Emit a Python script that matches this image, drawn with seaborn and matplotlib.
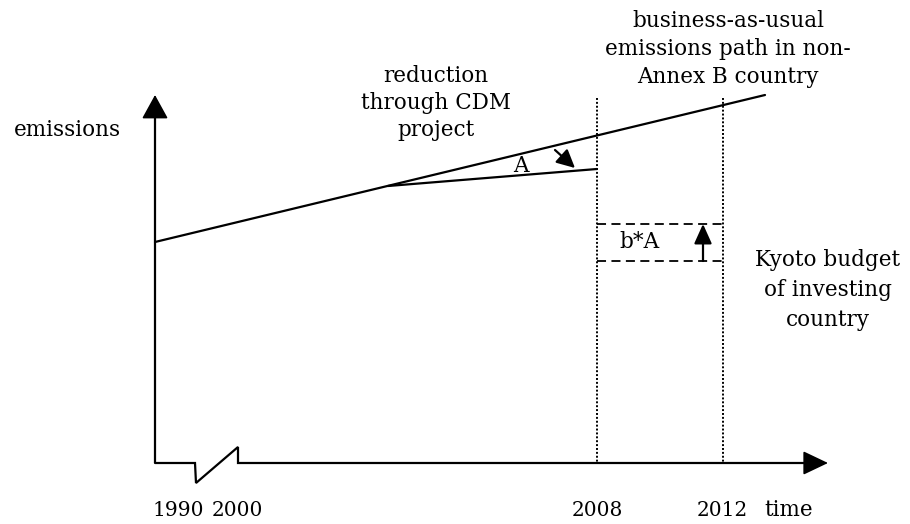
import matplotlib
matplotlib.use("Agg")
import matplotlib.pyplot as plt
import seaborn as sns
import pandas as pd

# ---- schematic data (drawing units: x to the right, y downward, ~pixels) ----
bau_x = [155, 765]          # business-as-usual emissions path
bau_y = [242, 95]
cdm_x = [388, 597]          # path with CDM project
cdm_y = [186, 169]
year_labels = ["1990", "2000", "2008", "2012"]
year_x = [178, 237, 597, 722]
period_x = [597, 723]       # 2008 and 2012 markers
budget_levels = [224, 261]  # Kyoto budget with / without b*A

sns.set_theme(style="white")
plt.rcParams["font.family"] = ["DejaVu Serif"]
plt.rcParams["text.color"] = "black"

fig = plt.figure(figsize=(9.10, 5.24), dpi=100)
ax = fig.add_axes([0, 0, 1, 1])
ax.set_xlim(0, 910)
ax.set_ylim(524, 0)
ax.axis("off")

df = pd.DataFrame({
    "x": bau_x + cdm_x,
    "y": bau_y + cdm_y,
    "path": ["bau"] * 2 + ["cdm"] * 2,
})
sns.lineplot(data=df, x="x", y="y", units="path", estimator=None,
             color="black", lw=1.6, ax=ax, legend=False)

# axes of the schematic
ax.plot([155, 155], [463, 112], color="black", lw=1.6, solid_capstyle="butt")
ax.annotate("", xy=(155, 95), xytext=(155, 116),
            arrowprops=dict(arrowstyle="-|>,head_length=1.0,head_width=0.55",
                            mutation_scale=15, color="black", lw=1.2,
                            shrinkA=0, shrinkB=0))
ax.plot([155, 195, 196, 238, 238, 810], [463, 463, 483, 447, 463, 463],
        color="black", lw=1.6, solid_joinstyle="miter")
ax.annotate("", xy=(828, 463), xytext=(806, 463),
            arrowprops=dict(arrowstyle="-|>,head_length=1.05,head_width=0.5",
                            mutation_scale=15, color="black", lw=1.2,
                            shrinkA=0, shrinkB=0))

# dotted period markers
for px in period_x:
    ax.plot([px, px], [98, 463], color="black", lw=1.4, ls=(0, (1, 1)))

# dashed budget lines
for by in budget_levels:
    ax.plot([period_x[0], period_x[1]], [by, by], color="black", lw=1.3,
            ls=(0, (5, 3)))

# arrows
ax.annotate("", xy=(703, 224), xytext=(703, 261),
            arrowprops=dict(arrowstyle="-|>,head_length=1.0,head_width=0.45",
                            mutation_scale=12, color="black", lw=1.6,
                            shrinkA=0, shrinkB=0))
ax.annotate("", xy=(575, 168), xytext=(555, 150),
            arrowprops=dict(arrowstyle="-|>,head_length=1.0,head_width=0.5",
                            mutation_scale=11, color="black", lw=1.6,
                            shrinkA=0, shrinkB=0))

fs = 15.5
ax.text(67, 130, "emissions", ha="center", va="center", fontsize=fs)
ax.text(436, 103, "reduction\nthrough CDM\nproject", ha="center", va="center",
        fontsize=fs, linespacing=1.3)
ax.text(728, 49, "business-as-usual\nemissions path in non-\nAnnex B country",
        ha="center", va="center", fontsize=fs, linespacing=1.33)
ax.text(521, 166, "A", ha="center", va="center", fontsize=fs)
ax.text(639, 242, "b*A", ha="center", va="center", fontsize=fs)
ax.text(828, 290, "Kyoto budget\nof investing\ncountry", ha="center",
        va="center", fontsize=fs, linespacing=1.47)
for lab, xx in zip(year_labels, year_x):
    ax.text(xx, 510, lab, ha="center", va="center", fontsize=14.5)
ax.text(789, 510, "time", ha="center", va="center", fontsize=fs)

fig.savefig("out.png", dpi=100)
